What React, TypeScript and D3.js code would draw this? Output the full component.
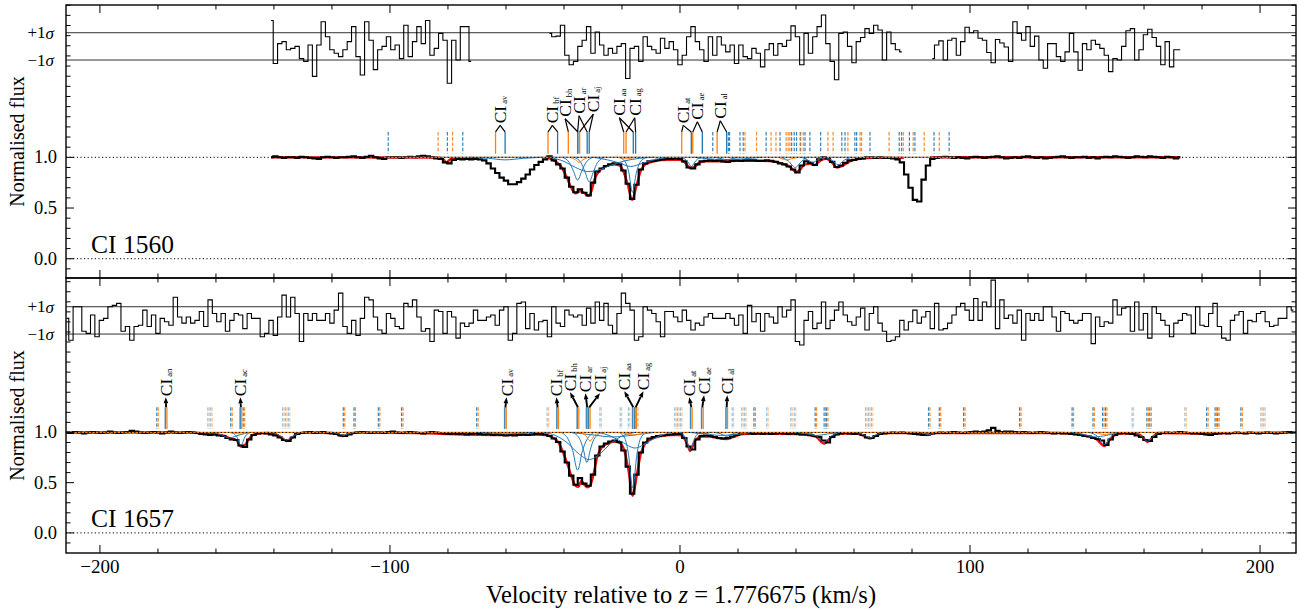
import React from "react";
import * as d3 from "d3";

// ---------------- data ----------------
const panelTitles = ["CI 1560", "CI 1657"];
const xMajorTicks = [-200, -100, 0, 100, 200];
const yMajorTicks = [0, 0.5, 1.0];
const yTickLabels = ["0.0", "0.5", "1.0"];
const pixelStep = 1.5; // km/s per spectral bin

// ---- panel 1 : CI 1560 ----
const p1FluxStart = -141;
const p1Flux = [
  1.0, 1.01, 1.0, 0.995, 1.0, 1.0, 0.995, 1.005, 1.0, 0.995,
  0.99, 0.985, 1.0, 1.005, 1.0, 0.995, 1.0, 1.0, 1.005, 1.01,
  1.0, 0.995, 1.005, 1.015, 1.0, 0.99, 0.985, 1.0, 1.0, 1.0,
  0.995, 1.0, 1.005, 1.0, 1.01, 1.015, 1.01, 1.0, 0.99, 0.985,
  0.95, 0.94, 0.975, 0.985, 0.98, 0.985, 0.98, 0.985, 0.98, 0.97,
  0.94, 0.89, 0.845, 0.8, 0.77, 0.735, 0.735, 0.755, 0.79, 0.83,
  0.88, 0.925, 0.955, 0.98, 1.01, 0.97, 0.93, 0.89, 0.8, 0.71,
  0.655, 0.685, 0.65, 0.625, 0.75, 0.86, 0.89, 0.915, 0.93, 0.94,
  0.935, 0.87, 0.74, 0.59, 0.73, 0.88, 0.94, 0.96, 0.965, 0.975,
  0.98, 0.985, 0.985, 0.99, 0.985, 0.96, 0.9, 0.89, 0.93, 0.96,
  0.965, 0.97, 0.965, 0.97, 0.96, 0.955, 0.965, 0.97, 0.965, 0.97,
  0.97, 0.97, 0.965, 0.965, 0.97, 0.965, 0.955, 0.94, 0.93, 0.91,
  0.88, 0.85, 0.92, 0.96, 0.945, 0.925, 0.98, 1.0, 0.99, 0.955,
  0.905, 0.92, 0.945, 0.97, 0.975, 0.985, 0.99, 1.0, 1.0, 0.995,
  1.0, 0.995, 0.995, 0.99, 0.98, 0.95, 0.83, 0.7, 0.58, 0.565,
  0.78, 0.92, 0.985, 0.995, 1.0, 1.005, 1.0, 0.995, 1.0, 0.995,
  0.99, 1.0, 1.005, 1.0, 0.995, 1.0, 1.005, 1.01, 1.0, 0.99,
  0.995, 1.0, 0.995, 1.005, 1.01, 1.0, 0.995, 1.0, 0.99, 0.995,
  1.0, 1.005, 1.01, 1.0, 0.995, 1.0, 1.0, 1.005, 0.995, 1.0,
  0.99, 1.0, 1.005, 1.0, 1.01, 1.005, 1.0, 0.995, 1.0, 1.01,
  1.005, 1.0, 1.01, 1.005, 1.0, 0.995, 1.005, 1.0, 0.99, 1.0,
];
const p1ResStarts = [-141, -45, 87];
const p1ResA = [
  1.9, -1.25, 0.2, 0.35, -0.25, -0.15, 0, -0.9, -1.1, 0.1, -2.2, 0.1, 1.8, 0.7, -0.25, -0.5,
  -0.75, -0.25, 0.35, 1.45, -0.75, -2.1, 1.8, 0.45, -1.7, -0.25, 0, 0.7, -0.25, 0.1, -0.9, 1.55,
  -0.75, 0.35, 1.45, 0.2, 1.9, -0.65, -0.15, 0.95, 0.45, -2.7, 0.45, -1.0, 1.45, 1.45, -1.1,
];
const p1ResB = [
  0.95, 0.7, 0.75, 1.55, -0.65, -1.35, -1.1, 0, 0.45, 1.45,
  -0.5, 1.05, 0.1, -0.65, -0.15, -0.5, 0, 0.2, -2.35, -0.15,
  0, -1.1, 0.7, 0, -0.25, -0.5, 0.6, -0.15, 0.35, -0.25,
  -1.35, -0.65, 0.7, 1.45, 0.35, -0.25, -1.1, 0.7, -0.65, 0.7,
  0.1, -0.4, 0.1, -1.25, 0.1, -0.75, -0.9, -0.15, -0.5, -1.5,
  -0.25, 0.2, -0.65, 0.2, 0, 0.45, 1.5, 0.7, -1.35, 0.95,
  -0.5, 0.7, 1.45, 2.3, 0.2, -1.1, -2.45, 0.95, 1.05, 0,
  -1.2, 0.35, 0.65, 1.3, 0.95, 1.55, 1.2, -1.0, 1.05, 0.2,
  -0.25, -0.4,
];
const p1ResC = [
  -0.9, 0.1, 0.4, -1.0, 0.45, 0.6, -0.65, 0.35, 1.4, 1.0, 1.15, 0.6, 0.45, -0.45, -1.2,
  0.5, 0.25, -0.05, -1.1, 1.8, 0.95, 0.45, 1.45, 0, 0.75, -1.0, -1.6, 0.2, 0.2, -0.75,
  -1.1, -0.4, 0.95, -0.4, -1.75, 0.2, -0.25, 0.45, 0.15, -0.15, -0.65, -1.85, -0.9, -1.0,
  0, 1.15, 1.3, -1.0, -0.25, 0.85, 1.25, 0.65, 0, -1.35, 0.35, -1.5, -0.25, -0.25,
];
// model is only shown where the fit applies (same ranges as the residual)
const p1ModelA = [
  [-141, 1.0], [-84, 0.998], [-82, 0.99], [-80.5, 0.95], [-79, 0.985], [-76, 0.99], [-74.8, 0.985],
  [-71.5, 0.993],
];
const p1ModelB = [
  [-45.8, 0.997], [-45, 0.99], [-43, 0.96],
  [-41, 0.91], [-39, 0.8], [-37.5, 0.7], [-36, 0.645], [-34.5, 0.665], [-33, 0.65], [-31.5, 0.62],
  [-30.5, 0.67], [-29.5, 0.78], [-28, 0.86], [-26, 0.905], [-23, 0.93], [-21, 0.92], [-19.5, 0.86],
  [-18, 0.73], [-16.5, 0.58], [-15, 0.72], [-13.5, 0.87], [-12, 0.93], [-9, 0.96], [-4, 0.975],
  [0, 0.975], [2, 0.94], [3.5, 0.895], [5, 0.905], [6.5, 0.945], [9, 0.96], [14, 0.96], [20, 0.965],
  [28, 0.965], [33, 0.955], [36, 0.93], [38, 0.905], [40, 0.855], [41.5, 0.88], [43, 0.93],
  [45, 0.935], [46.5, 0.925], [48.5, 0.97], [50.5, 0.985], [52.5, 0.945], [54, 0.9], [56, 0.915],
  [58.5, 0.96], [62, 0.985], [67, 0.995], [77.2, 0.995],
];
const p1ModelC = [[86.3, 1.0], [172.5, 1.0]];
const p1BlueComps = [
  [[-72, 1], [-66, 0.99], [-60.3, 0.975], [-54, 0.99], [-48, 1]],
  [[-40.5, 1], [-38.2, 0.95], [-36.8, 0.87], [-35.3, 0.775], [-33.8, 0.87], [-32.4, 0.95], [-30, 1]],
  [[-36.5, 1], [-34.2, 0.95], [-32.8, 0.86], [-31.3, 0.76], [-29.8, 0.86], [-28.4, 0.95], [-26, 1]],
  [[-45, 1], [-40, 0.96], [-36, 0.9], [-32, 0.86], [-28, 0.875], [-24, 0.92], [-19, 0.965], [-14, 0.99], [-9, 1]],
  [[-21, 1], [-19, 0.96], [-17.7, 0.86], [-16.4, 0.655], [-15.1, 0.84], [-13.8, 0.95], [-11.5, 1]],
  [[-30, 1], [-25, 0.975], [-21, 0.945], [-17, 0.91], [-13, 0.94], [-9, 0.975], [-4, 1]],
  [[0.5, 1], [2.2, 0.97], [3.2, 0.935], [3.9, 0.905], [4.7, 0.935], [5.6, 0.97], [7.5, 1]],
  [[12, 1], [14.5, 0.985], [16.1, 0.975], [17.7, 0.985], [20, 1]],
  [[5, 1], [10, 0.985], [15, 0.978], [22, 0.985], [28, 1]],
  [[35, 1], [37.5, 0.96], [39.7, 0.9], [41.9, 0.96], [44, 1]],
  [[42, 1], [44, 0.975], [45.8, 0.95], [47.5, 0.975], [49.5, 1]],
  [[50, 1], [52.5, 0.97], [54.5, 0.925], [56.5, 0.97], [59, 1]],
];
const p1OrangeComps = [
  [[-38, 1], [-36, 0.975], [-34.8, 0.95], [-33.5, 0.975], [-31.5, 1]],
  [[-22, 1], [-19.5, 0.99], [-18.5, 0.985], [-17, 0.99], [-15, 1]],
  [[34, 1], [36.8, 0.975], [39, 0.99], [41, 1]],
];
const p1CompRange = [-102, 95];
const p1DashBlue = [-100.6, -80.2, -74.9, 11.3, 16.7, 17.1, 20.7, 21.8, 29.7, 34.5, 38.5, 39.4, 40.2,
  41.6, 43.1, 44.8, 48.5, 55.8, 56.9, 60.3, 60.9, 65.5, 75.6, 76.4, 79.1, 81.0, 87.6, 92.8];
const p1DashOrange = [-83.4, -78.4, 22.4, 26.4, 31.4, 33.1, 36.6, 37.3, 37.9, 41.4, 42.5, 51.0,
  52.8, 57.9, 62.1, 62.6, 72.1, 77.0, 80.4, 84.2, 89.4];
const p1LineOrange = [-63.6, -45.5, -38.5, -35.3, -34.6, -19.4, -18.6, 0.6, 4.4, 12.8];
const p1LineBlue = [-60.3, -42.2, -35.2, -32.0, -31.3, -16.1, -15.3, 3.9, 7.7, 16.1];
const p1LabelNames = ["av", "bf", "bh", "ar", "aj", "aa", "ag", "at", "ae", "al"];
const p1LabelV = [-62.0, -44.0, -39.6, -34.8, -29.9, -20.9, -15.6, 1.1, 6.0, 13.9];
const p1LabelF = [1.335, 1.335, 1.4, 1.43, 1.445, 1.41, 1.41, 1.335, 1.37, 1.38];

// ---- panel 2 : CI 1657 ----
const p2FluxStart = -211.5;
const p2Flux = [
  1.0, 0.995, 1.005, 1.0, 0.99, 1.0, 1.005, 1.0, 0.995, 1.0,
  1.01, 1.0, 0.995, 1.0, 1.005, 1.015, 1.01, 1.0, 0.995, 1.0,
  1.005, 1.0, 0.99, 1.0, 1.01, 1.0, 0.995, 1.0, 1.005, 1.0,
  0.995, 0.985, 0.98, 0.975, 0.98, 0.97, 0.965, 0.945, 0.93, 0.925,
  0.87, 0.855, 0.93, 0.975, 0.99, 0.995, 0.99, 0.98, 0.97, 0.95,
  0.925, 0.915, 0.95, 0.985, 0.995, 1.0, 1.005, 0.995, 1.0, 1.005,
  0.995, 0.99, 0.985, 0.97, 0.965, 0.98, 0.995, 1.0, 1.005, 1.0,
  0.995, 1.0, 1.0, 0.995, 1.005, 1.01, 1.0, 0.995, 1.0, 1.005,
  1.0, 0.995, 0.99, 1.0, 1.005, 1.0, 0.995, 0.99, 0.985, 0.99,
  0.985, 0.99, 0.98, 0.985, 0.99, 0.985, 0.98, 0.985, 0.975, 0.98,
  0.975, 0.97, 0.975, 0.97, 0.975, 0.98, 0.975, 0.98, 0.985, 0.985,
  0.98, 0.965, 0.94, 0.905, 0.81, 0.7, 0.57, 0.48, 0.545, 0.49,
  0.47, 0.58, 0.77, 0.86, 0.89, 0.91, 0.92, 0.905, 0.82, 0.66,
  0.39, 0.58, 0.8, 0.9, 0.94, 0.955, 0.965, 0.97, 0.975, 0.98,
  0.985, 0.985, 0.945, 0.86, 0.83, 0.93, 0.965, 0.97, 0.965, 0.955,
  0.945, 0.94, 0.945, 0.96, 0.975, 0.99, 0.995, 0.99, 0.985, 0.99,
  0.985, 0.99, 0.985, 0.99, 0.995, 0.99, 0.985, 0.99, 0.985, 0.98,
  0.98, 0.975, 0.965, 0.955, 0.92, 0.9, 0.955, 0.98, 0.99, 0.995,
  0.99, 0.985, 0.99, 0.975, 0.95, 0.945, 0.965, 0.985, 0.99, 0.995,
  1.0, 0.995, 1.0, 0.995, 0.99, 0.985, 0.98, 0.975, 0.98, 0.99,
  0.995, 1.0, 0.995, 1.0, 1.005, 1.0, 0.995, 1.0, 1.005, 1.01,
  1.005, 1.01, 1.02, 1.045, 1.015, 1.005, 1.01, 1.01, 1.005, 1.0,
  1.005, 1.0, 0.995, 1.0, 1.005, 1.0, 0.995, 0.99, 0.995, 0.99,
  0.99, 0.985, 0.98, 0.975, 0.965, 0.96, 0.945, 0.935, 0.92, 0.875,
  0.93, 0.975, 0.99, 0.995, 0.99, 0.985, 0.97, 0.955, 0.925, 0.915,
  0.955, 0.985, 0.995, 1.0, 0.995, 1.0, 1.005, 1.0, 0.995, 0.99,
  0.99, 0.985, 0.98, 0.975, 0.985, 0.99, 0.995, 0.99, 0.995, 1.0,
  0.995, 0.99, 1.0, 0.995, 0.99, 0.995, 1.0, 0.995, 0.99, 0.995,
  1.0, 1.005, 1.0,
];
const p2ResStarts = [-211.5];
const p2Res = [
  0.15, -1.45, 1.0, 1.0, -0.8, -0.95, 0.4, -1.2, 0, 0.15,
  1.0, 1.1, 1.25, -0.8, -0.45, -1.45, -0.45, -0.35, 0.75, -0.45,
  0.4, -0.95, 0.15, -0.1, -0.35, 1.7, 0.25, -0.2, 0.25, -0.2,
  0, 0.65, -0.45, 1.5, 0.5, -0.1, 0.5, -0.8, 0, 0.5,
  0.4, -0.6, 0.5, 0.15, 0.15, -1.2, -0.95, 0, -1.1, 0.25,
  1.85, 0.25, 1.7, 0.5, -1.55, 0.5, 0, 0.5, 0, 0,
  0.5, -0.2, 0.75, 2.0, -0.45, -0.95, 0, -1.1, 0.15, 1.7,
  1.5, 0.25, -0.7, -0.95, 0.5, 0.15, -0.45, -0.6, 1.25, 1.0,
  1.5, 0.25, -0.8, -0.6, -1.55, 0.75, 0.65, -0.95, 0.65, 0.25,
  -1.3, -0.2, -0.45, -0.2, 0.75, 0, 0, 0.25, 0.4, -0.35,
  0.75, 1.0, -1.45, -0.95, 1.25, 1.35, -0.6, 0.5, -0.7, -0.1,
  0, -1.2, 1.0, -0.2, -0.45, 0.75, 0.4, 0.25, 0.4, -0.35,
  0.9, -0.2, 1.35, 0, 1.25, -0.35, -0.95, 0.5, 2.0, 1.25,
  0.75, -1.45, -1.2, 1.0, 0.75, 0.5, -0.1, -1.2, 0.65, 0.65,
  0.25, -0.1, 0.75, 0, -0.7, -0.2, -0.35, 0.25, 0.5, 0.15,
  0.15, 0.15, 0.5, 0.15, -0.35, 0.4, -0.95, 1.1, -0.1, 0.5,
  -0.8, 0.5, 0.25, -0.2, 1.0, 0.25, 0.75, 1.5, -1.55, -1.8,
  0, 0.65, -0.6, -0.2, 1.35, -0.6, 0, 0.75, 1.35, 0.4,
  -0.1, -0.35, 0.25, 0.9, -0.7, 0.5, 1.0, -0.2, -0.8, -1.55,
  -1.45, -1.2, 0, -0.7, -0.1, 0.75, -0.2, 0.25, 0.65, -0.6,
  1.25, -0.7, -0.6, -0.2, 0.4, 1.0, 1.25, 0.75, 0, 1.6,
  0, 1.35, 1.0, 2.95, -0.6, 1.5, 0.15, 0.4, -0.2, 0.75,
  -1.45, 0.5, 0, 0.5, 0, 1.0, 1.0, 0.25, -0.8, 0.65,
  0.5, 0, -0.2, 0, 0.5, 0.5, -1.7, 0.25, -0.45, -0.1,
  -0.2, 1.5, 0.4, 0.9, 1.0, -0.8, 1.35, -0.7, 0.5, -1.3,
  1.0, 0.5, 0, -0.35, -1.2, -0.2, 0, 0.5, 0.4, -0.95,
  1.0, -0.35, -0.45, 0.5, 1.25, -0.45, -1.3, -1.45, 0, 0.4,
  0.65, -0.95, 0, -0.1, 0.5, 0.65, -0.1, -0.45, -0.35, 0.15,
  0.15, 1.0, 0.75,
];
const p2Model = [
  [-212, 1], [-168, 1], [-165, 0.99], [-160, 0.98], [-157, 0.965], [-155, 0.94], [-153, 0.925],
  [-151.4, 0.86], [-150, 0.875], [-148.5, 0.94], [-146.5, 0.985], [-142, 0.995], [-139, 0.975],
  [-137.5, 0.95], [-135.6, 0.915], [-134, 0.94], [-132, 0.985], [-129, 1], [-120, 0.995], [-118, 0.98],
  [-116.3, 0.965], [-114, 0.985], [-111, 1], [-90, 0.995], [-80, 0.985], [-60, 0.975], [-50, 0.98],
  [-46, 0.975], [-44, 0.95], [-42, 0.905], [-40.5, 0.815], [-39, 0.7], [-37.5, 0.57], [-36, 0.47],
  [-35, 0.46], [-34, 0.52], [-33, 0.48], [-32, 0.455], [-31, 0.47], [-30, 0.56], [-28.5, 0.76],
  [-27, 0.85], [-25, 0.89], [-22.5, 0.91], [-20.5, 0.89], [-19, 0.8], [-17.8, 0.63], [-16.3, 0.37],
  [-14.8, 0.59], [-13.5, 0.79], [-12, 0.89], [-10, 0.935], [-7, 0.96], [-3, 0.975], [0, 0.975],
  [1.5, 0.94], [2.7, 0.87], [3.5, 0.815], [4.4, 0.86], [5.5, 0.93], [7.5, 0.96], [10, 0.96],
  [13, 0.945], [16, 0.935], [18, 0.95], [21, 0.98], [25, 0.99], [40, 0.985], [44, 0.975],
  [47, 0.955], [49.7, 0.89], [52, 0.95], [55, 0.99], [61, 0.99], [63.5, 0.965], [65.5, 0.94],
  [67.5, 0.965], [70, 0.995], [82, 0.995], [85.5, 0.975], [88, 0.995], [130, 0.995], [137, 0.985],
  [141, 0.96], [143.5, 0.935], [146.3, 0.865], [148.3, 0.93], [151, 0.99], [157, 0.99],
  [159.5, 0.955], [161.2, 0.905], [163, 0.955], [165, 0.995], [180, 0.99], [182, 0.98], [184, 0.99],
  [212.4, 1],
];
const p2BlueComps = [
  [[-155, 1], [-153, 0.965], [-151.4, 0.875], [-149.8, 0.965], [-148, 1]],
  [[-161, 1], [-158, 0.975], [-155.5, 0.945], [-153, 0.965], [-149, 1]],
  [[-140, 1], [-137.8, 0.965], [-135.6, 0.925], [-133.4, 0.965], [-131, 1]],
  [[-120, 1], [-117.5, 0.985], [-116, 0.972], [-114.5, 0.985], [-112, 1]],
  [[-70, 1], [-64, 0.99], [-60, 0.985], [-56, 0.99], [-50, 1]],
  [[-41, 1], [-38.5, 0.93], [-37, 0.82], [-35.3, 0.625], [-33.6, 0.82], [-32.1, 0.93], [-29.5, 1]],
  [[-37, 1], [-34.5, 0.93], [-33.3, 0.83], [-32.1, 0.7], [-30.9, 0.83], [-29.7, 0.93], [-27, 1]],
  [[-47, 1], [-43, 0.97], [-39, 0.9], [-35, 0.79], [-31.3, 0.73], [-27.5, 0.79], [-23.5, 0.9], [-19.5, 0.97], [-15.5, 1]],
  [[-21, 1], [-19, 0.94], [-17.8, 0.79], [-16.3, 0.45], [-14.8, 0.79], [-13.6, 0.94], [-11.5, 1]],
  [[-28, 1], [-24, 0.965], [-20, 0.905], [-15.5, 0.845], [-11, 0.905], [-7, 0.965], [-3, 1]],
  [[-38, 1], [-30, 0.975], [-23, 0.955], [-17, 0.97], [-9, 1]],
  [[0, 1], [1.8, 0.95], [2.7, 0.885], [3.5, 0.825], [4.3, 0.885], [5.2, 0.95], [7, 1]],
  [[5, 1], [7.7, 0.985], [10.5, 1]],
  [[3, 1], [9, 0.985], [14, 0.97], [19, 0.98], [25, 1]],
  [[12, 1], [14.6, 0.98], [16.1, 0.96], [17.6, 0.98], [20, 1]],
  [[44, 1], [47, 0.965], [49.7, 0.905], [52.2, 0.965], [55, 1]],
  [[40, 1], [44, 0.985], [47, 0.97], [51, 0.985], [55, 1]],
  [[61, 1], [63.5, 0.975], [65.5, 0.945], [67.5, 0.975], [70, 1]],
  [[83, 1], [85.7, 0.98], [88, 1]],
  [[141, 1], [144, 0.96], [146.3, 0.88], [148.6, 0.96], [151, 1]],
  [[135, 1], [139, 0.98], [143, 0.955], [147, 0.97], [151, 1]],
  [[157, 1], [159.3, 0.96], [161.2, 0.91], [163.1, 0.96], [165, 1]],
];
const p2OrangeComps = [
  [[-34.5, 1], [-32.5, 0.97], [-31, 0.915], [-29.5, 0.97], [-27.5, 1]],
  [[-21, 1], [-18, 0.985], [-16, 0.975], [-13.5, 0.985], [-11, 1]],
  [[-155, 1], [-151.5, 0.985], [-148, 1]],
  [[143, 1], [146.3, 0.98], [149.5, 1]],
];
const p2CompRange = [-211.7, 212.4];
// [velocity, relative strength]
const p2DashBlue = [
  [-180.4, 1], [-162.8, 0.5], [-161.8, 0.5], [-154.9, 1], [-150.6, 1], [-137.0, 0.5], [-136.0, 0.5],
  [-135.0, 0.5], [-116.1, 1], [-112.4, 1], [-104.0, 1], [-96.0, 1], [-70.1, 1], [-45.8, 0.5],
  [-27.6, 0.5], [-20.6, 0.5], [-17.8, 0.5], [-14.9, 0.5], [-1.8, 0.5], [-0.8, 0.5], [0.2, 0.5],
  [18.0, 0.5], [21.3, 0.5], [22.3, 0.5], [25.5, 1], [29.9, 0.5], [38.2, 0.5], [39.4, 0.5], [46.6, 1],
  [49.7, 1], [50.5, 1], [64.0, 0.5], [65.0, 0.5], [66.0, 0.5], [85.7, 1], [89.4, 1], [97.8, 1],
  [117.1, 1], [135.2, 1], [142.4, 1], [145.7, 1], [146.7, 1], [155.9, 0.5], [161.0, 1], [162.0, 1],
  [174.1, 0.5], [181.6, 1], [184.5, 1], [185.4, 1], [193.4, 1], [200.3, 0.5], [201.3, 0.5],
];
const p2DashOrange = [
  [-179.9, 1], [-162.3, 0.5], [-161.3, 0.5], [-154.4, 1], [-150.1, 1], [-136.5, 0.5], [-135.5, 0.5],
  [-134.5, 0.5], [-115.6, 1], [-111.9, 1], [-103.5, 1], [-95.5, 1], [-69.6, 1], [-45.3, 0.5],
  [-27.1, 0.5], [-20.1, 0.5], [-17.3, 0.5], [-14.4, 0.5], [-1.3, 0.5], [-0.3, 0.5], [0.7, 0.5],
  [18.5, 0.5], [21.8, 0.5], [22.8, 0.5], [26.0, 1], [30.4, 0.5], [38.7, 0.5], [39.9, 0.5], [47.1, 1],
  [50.2, 1], [51.0, 1], [64.5, 0.5], [65.5, 0.5], [66.5, 0.5], [86.2, 1], [89.9, 1], [98.3, 1],
  [117.6, 1], [135.7, 1], [142.9, 1], [146.2, 1], [147.2, 1], [156.4, 0.5], [161.5, 1], [162.5, 1],
  [174.6, 0.5], [182.1, 1], [185.0, 1], [185.9, 1], [193.9, 1], [200.8, 0.5], [201.8, 0.5],
];
const p2LineV = [-177.2, -151.4, -60.2, -42.2, -35.2, -32.0, -31.3, -16.1, -15.3, 3.9, 7.7, 16.1];
const p2LabelNames = ["an", "ac", "av", "bf", "bh", "ar", "aj", "aa", "ag", "at", "ae", "al"];
const p2LabelV = [-177.3, -151.6, -59.8, -42.6, -37.9, -32.6, -27.6, -19.2, -12.6, 3.2, 8.3, 16.3];
const p2LabelF = [1.36, 1.36, 1.36, 1.36, 1.41, 1.4, 1.4, 1.42, 1.42, 1.36, 1.38, 1.38];

// ---------------- layout ----------------
const W = 1304;
const H = 610;
const plotLeft = 66;
const plotRight = 1296;
const velocityDomain = [-211.7, 212.4];
const panelTop = [5, 278];
const panelBottom = [278, 553];
const panelYDomain = [[-0.19, 2.502], [-0.2, 2.537]];
const residualCentre = [2.094, 2.115];
const residualSigma = [0.1346, 0.1359];
const FONT = "'Liberation Serif', 'Times New Roman', serif";
const BLUE = "#1f77b4";
const ORANGE = "#ff7f0e";
const RED = "#f01010";
const tickTopF = 1.25;
const tickBottomF = 1.035;

type P = [number, number];

const panelsData = [
  {
    flux: { start: p1FluxStart, values: p1Flux },
    res: [
      { start: p1ResStarts[0], values: p1ResA },
      { start: p1ResStarts[1], values: p1ResB },
      { start: p1ResStarts[2], values: p1ResC },
    ],
    model: [p1ModelA, p1ModelB, p1ModelC],
    blue: p1BlueComps,
    orange: p1OrangeComps,
    compRange: p1CompRange,
    dashBlue: p1DashBlue.map((v) => [v, 1]),
    dashOrange: p1DashOrange.map((v) => [v, 1]),
  },
  {
    flux: { start: p2FluxStart, values: p2Flux },
    res: [{ start: p2ResStarts[0], values: p2Res }],
    model: [p2Model],
    blue: p2BlueComps,
    orange: p2OrangeComps,
    compRange: p2CompRange,
    dashBlue: p2DashBlue,
    dashOrange: p2DashOrange,
  },
];

function toPoints(start: number, values: number[], map: (f: number) => number): P[] {
  return values.map((f, i) => [start + i * pixelStep, map(f)] as P);
}

function Panel({ idx, x }: { idx: number; x: d3.ScaleLinear<number, number> }) {
  const d = panelsData[idx] as any;
  const top = panelTop[idx];
  const bottom = panelBottom[idx];
  const y = d3.scaleLinear().domain(panelYDomain[idx]).range([bottom, top]);
  const clipId = `plotclip${idx}`;
  const step = d3.line<P>().x((p) => x(p[0])).y((p) => y(p[1])).curve(d3.curveStep);
  const smooth = d3.line<P>().x((p) => x(p[0])).y((p) => y(p[1])).curve(d3.curveMonotoneX);
  const rc = residualCentre[idx];
  const rs = residualSigma[idx];

  const xMinor = d3.range(-200, 201, 20);
  const yMinor = d3.range(-1, 26).map((k) => k / 10).filter((v) => v >= panelYDomain[idx][0] && v <= panelYDomain[idx][1]);

  const elements: any[] = [];

  // residual strip
  elements.push(
    <line key="s+" x1={plotLeft} x2={plotRight} y1={y(rc + rs)} y2={y(rc + rs)} stroke="#333" strokeWidth={1} />,
    <line key="s-" x1={plotLeft} x2={plotRight} y1={y(rc - rs)} y2={y(rc - rs)} stroke="#333" strokeWidth={1} />
  );
  d.res.forEach((seg: any, k: number) => {
    elements.push(
      <path key={`res${k}`} d={step(toPoints(seg.start, seg.values, (r) => rc + rs * r)) || ""} fill="none" stroke="#000" strokeWidth={1.1} />
    );
  });

  // zero line
  elements.push(<line key="zero" x1={plotLeft} x2={plotRight} y1={y(0)} y2={y(0)} stroke="#000" strokeWidth={1} strokeDasharray="1.2 2.4" />);

  // model and flux
  d.model.forEach((m: P[], k: number) => {
    elements.push(<path key={`model${k}`} d={smooth(m) || ""} fill="none" stroke={RED} strokeWidth={2.4} />);
  });
  elements.push(
    <path key="flux" d={step(toPoints(d.flux.start, d.flux.values, (f) => f)) || ""} fill="none" stroke="#000" strokeWidth={2.1} />
  );

  // components
  elements.push(
    <line key="bbase" x1={x(d.compRange[0])} x2={x(d.compRange[1])} y1={y(1)} y2={y(1)} stroke={BLUE} strokeWidth={1} />,
    <line key="obase" x1={x(d.compRange[0])} x2={x(d.compRange[1])} y1={y(1)} y2={y(1)} stroke={ORANGE} strokeWidth={1} />
  );
  d.blue.forEach((c: P[], k: number) => {
    elements.push(<path key={`bc${k}`} d={smooth(c) || ""} fill="none" stroke={BLUE} strokeWidth={1} />);
  });
  d.orange.forEach((c: P[], k: number) => {
    elements.push(<path key={`oc${k}`} d={smooth(c) || ""} fill="none" stroke={ORANGE} strokeWidth={1} />);
  });
  elements.push(<line key="one" x1={plotLeft} x2={plotRight} y1={y(1)} y2={y(1)} stroke="#000" strokeWidth={1} strokeDasharray="1.2 2.4" />);

  // dashed line markers
  const yT = y(tickTopF);
  const yB = y(tickBottomF);
  d.dashBlue.forEach((t: P, k: number) => {
    elements.push(
      <line key={`db${k}`} x1={x(t[0])} x2={x(t[0])} y1={yT} y2={yB} stroke={BLUE} strokeWidth={1.2} strokeDasharray="3.5 1.8" opacity={t[1] < 1 ? 0.45 : 0.9} />
    );
  });
  d.dashOrange.forEach((t: P, k: number) => {
    elements.push(
      <line key={`do${k}`} x1={x(t[0])} x2={x(t[0])} y1={yT} y2={yB} stroke={ORANGE} strokeWidth={1.2} strokeDasharray="3.5 1.8" opacity={t[1] < 1 ? 0.45 : 0.9} />
    );
  });

  // labelled markers
  const labelText = (lx: number, ly: number, name: string, key: string) => (
    <text key={key} transform={`translate(${lx},${ly}) rotate(-90)`} fontFamily={FONT} fontSize={17.5} dominantBaseline="central" fill="#000">
      CI
      <tspan fontSize={8.5} dx={2} dy={3.5}>{name}</tspan>
    </text>
  );
  if (idx === 0) {
    p1LineOrange.forEach((v, k) => {
      elements.push(<line key={`so${k}`} x1={x(v)} x2={x(v)} y1={yT} y2={yB} stroke={ORANGE} strokeWidth={1.3} />);
    });
    p1LineBlue.forEach((v, k) => {
      elements.push(<line key={`sb${k}`} x1={x(v)} x2={x(v)} y1={yT} y2={yB} stroke={BLUE} strokeWidth={1.3} />);
    });
    p1LabelNames.forEach((name, k) => {
      const lx = x(p1LabelV[k]);
      const ly = y(p1LabelF[k]);
      elements.push(
        <line key={`ca${k}`} x1={lx} y1={ly + 2} x2={x(p1LineOrange[k])} y2={yT} stroke="#000" strokeWidth={1.2} />,
        <line key={`cb${k}`} x1={lx} y1={ly + 2} x2={x(p1LineBlue[k])} y2={yT} stroke="#000" strokeWidth={1.2} />,
        labelText(lx, ly, name, `lt${k}`)
      );
    });
  } else {
    p2LineV.forEach((v, k) => {
      elements.push(
        <line key={`sb${k}`} x1={x(v) - 0.7} x2={x(v) - 0.7} y1={yT} y2={yB} stroke={BLUE} strokeWidth={1.6} opacity={0.85} />,
        <line key={`so${k}`} x1={x(v) + 0.9} x2={x(v) + 0.9} y1={yT} y2={yB} stroke={ORANGE} strokeWidth={1.2} />
      );
    });
    p2LabelNames.forEach((name, k) => {
      const lx = x(p2LabelV[k]);
      const ly = y(p2LabelF[k]);
      const tx = x(p2LineV[k]);
      const dx = lx - tx;
      const dy = ly + 1 - yT;
      const len = Math.hypot(dx, dy);
      const ux = dx / len;
      const uy = dy / len;
      const hx = lx;
      const hy = ly + 1;
      const bx = hx - ux * 6;
      const by = hy - uy * 6;
      elements.push(
        <line key={`ca${k}`} x1={tx} y1={yT} x2={bx} y2={by} stroke="#000" strokeWidth={1.9} />,
        <polygon key={`ch${k}`} points={`${hx},${hy} ${bx - uy * 2.3},${by + ux * 2.3} ${bx + uy * 2.3},${by - ux * 2.3}`} fill="#000" />,
        labelText(lx, ly, name, `lt${k}`)
      );
    });
  }

  // axes ticks
  const ticks: any[] = [];
  xMinor.forEach((v) => {
    const major = xMajorTicks.includes(v);
    const L = major ? 8 : 4.5;
    ticks.push(
      <line key={`xb${v}`} x1={x(v)} x2={x(v)} y1={bottom} y2={bottom - L} stroke="#000" strokeWidth={1} />,
      <line key={`xt${v}`} x1={x(v)} x2={x(v)} y1={top} y2={top + L} stroke="#000" strokeWidth={1} />
    );
  });
  yMinor.forEach((v, k) => {
    const major = yMajorTicks.some((m) => Math.abs(m - v) < 1e-6);
    const L = major ? 8 : 4.5;
    ticks.push(
      <line key={`yl${k}`} x1={plotLeft} x2={plotLeft + L} y1={y(v)} y2={y(v)} stroke="#000" strokeWidth={1} />,
      <line key={`yr${k}`} x1={plotRight} x2={plotRight - L} y1={y(v)} y2={y(v)} stroke="#000" strokeWidth={1} />
    );
  });

  return (
    <g>
      <defs>
        <clipPath id={clipId}>
          <rect x={plotLeft} y={top} width={plotRight - plotLeft} height={bottom - top} />
        </clipPath>
      </defs>
      <g clipPath={`url(#${clipId})`}>{elements}</g>
      {ticks}
      <rect x={plotLeft} y={top} width={plotRight - plotLeft} height={bottom - top} fill="none" stroke="#000" strokeWidth={1.4} />
      {yMajorTicks.map((v, k) => (
        <text key={`yl${k}`} x={plotLeft - 9} y={y(v)} textAnchor="end" dominantBaseline="central" fontFamily={FONT} fontSize={18.5}>
          {yTickLabels[k]}
        </text>
      ))}
      <text x={plotLeft - 12} y={y(rc + rs)} textAnchor="end" dominantBaseline="central" fontFamily={FONT} fontSize={17}>
        +1<tspan fontStyle="italic">σ</tspan>
      </text>
      <text x={plotLeft - 12} y={y(rc - rs)} textAnchor="end" dominantBaseline="central" fontFamily={FONT} fontSize={17}>
        {"\u22121"}<tspan fontStyle="italic">σ</tspan>
      </text>
      <text transform={`translate(17,${(top + bottom) / 2}) rotate(-90)`} textAnchor="middle" dominantBaseline="central" fontFamily={FONT} fontSize={20}>
        Normalised flux
      </text>
      <text x={91} y={y(0) - 6} fontFamily={FONT} fontSize={25.5}>
        {panelTitles[idx]}
      </text>
    </g>
  );
}

export default function App() {
  const x = d3.scaleLinear().domain(velocityDomain).range([plotLeft, plotRight]);
  return (
    <svg width={W} height={H} style={{ position: "absolute", left: 0, top: 0, background: "#fff" }}>
      <rect x={0} y={0} width={W} height={H} fill="#fff" />
      <Panel idx={0} x={x} />
      <Panel idx={1} x={x} />
      {xMajorTicks.map((v) => (
        <text key={`xl${v}`} x={x(v)} y={573} textAnchor="middle" fontFamily={FONT} fontSize={19}>
          {v < 0 ? `\u2212${Math.abs(v)}` : `${v}`}
        </text>
      ))}
      <text x={(plotLeft + plotRight) / 2} y={603} textAnchor="middle" fontFamily={FONT} fontSize={24.5}>
        Velocity relative to <tspan fontStyle="italic">z</tspan> = 1.776675 (km/s)
      </text>
    </svg>
  );
}
